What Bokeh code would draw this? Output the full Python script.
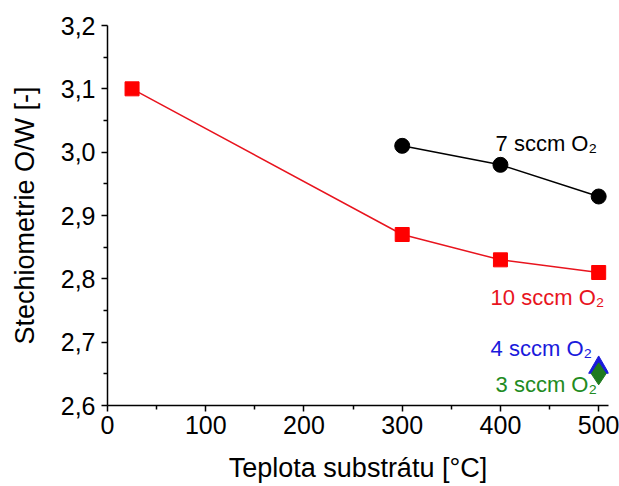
from bokeh.plotting import figure
from bokeh.models import FixedTicker, CustomJSTickFormatter, Range1d
from bokeh.core.properties import value
from bokeh.embed import file_html
from bokeh.resources import INLINE

# data
x10 = [25, 300, 400, 500]
y10 = [3.10, 2.87, 2.83, 2.81]
x7 = [300, 400, 500]
y7 = [3.01, 2.98, 2.93]
x4 = [500]
y4 = [2.66]
x3 = [500]
y3 = [2.65]

x_ticks = [0, 100, 200, 300, 400, 500]
x_minor = [50, 150, 250, 350, 450]
y_ticks = [2.6, 2.7, 2.8, 2.9, 3.0, 3.1, 3.2]
y_minor = [2.65, 2.75, 2.85, 2.95, 3.05, 3.15]

label_texts = ["7 sccm O₂", "10 sccm O₂", "4 sccm O₂", "3 sccm O₂"]
label_x = [395, 390, 390, 395]
label_y = [3.014, 2.77, 2.69, 2.633]
label_colors = ["black", "#e8141e", "#1a1adc", "#228b22"]

FONT = "Liberation Sans"

p = figure(width=619, height=486, output_backend="svg", toolbar_location=None,
           x_range=Range1d(0, 510), y_range=Range1d(2.6, 3.2),
           min_border_left=107, min_border_right=11, min_border_top=25, min_border_bottom=81)
p.outline_line_color = None
p.grid.visible = False
p.background_fill_color = "white"

p.xaxis.ticker = FixedTicker(ticks=x_ticks, minor_ticks=x_minor)
p.yaxis.ticker = FixedTicker(ticks=y_ticks, minor_ticks=y_minor)
p.yaxis.formatter = CustomJSTickFormatter(code="return tick.toFixed(1).replace('.', ',');")
p.xaxis.axis_label = "Teplota substrátu [°C]"
p.yaxis.axis_label = "Stechiometrie O/W [-]"

for ax in (p.xaxis, p.yaxis):
    ax.axis_line_color = "black"
    ax.axis_line_width = 1.5
    ax.major_tick_line_color = "black"
    ax.major_tick_line_width = 1.5
    ax.minor_tick_line_color = "black"
    ax.minor_tick_line_width = 1.5
    ax.major_tick_in = 0
    ax.major_tick_out = 6
    ax.minor_tick_in = 0
    ax.minor_tick_out = 4
    ax.major_label_text_font = FONT
    ax.major_label_text_font_size = "25px"
    ax.major_label_text_color = "black"
    ax.axis_label_text_font = FONT
    ax.axis_label_text_font_size = "27px"
    ax.axis_label_text_font_style = "normal"
    ax.axis_label_text_color = "black"

p.xaxis.major_label_standoff = 4
p.xaxis.axis_label_standoff = 16
p.yaxis.major_label_standoff = 6
p.yaxis.axis_label_standoff = 18

p.line(x10, y10, line_color="#e8141e", line_width=1.5)
p.scatter(x10, y10, marker="square", size=14, fill_color="#ff0000", line_color="#ff0000")
p.line(x7, y7, line_color="black", line_width=1.5)
p.scatter(x7, y7, marker="circle", size=15, fill_color="black", line_color="black")
p.scatter(x4, y4, marker="triangle", size=20, fill_color="#1a1adc", line_color="#1a1adc")
p.scatter(x3, y3, marker="diamond", size=22, fill_color="#1f7a1f", line_color="#1f7a1f")

p.text(x=label_x, y=label_y, text=label_texts, text_color=label_colors,
       text_font=value(FONT), text_font_size="22px", text_baseline="middle", text_align="left")

open("out.html", "w").write(file_html(p, INLINE))
